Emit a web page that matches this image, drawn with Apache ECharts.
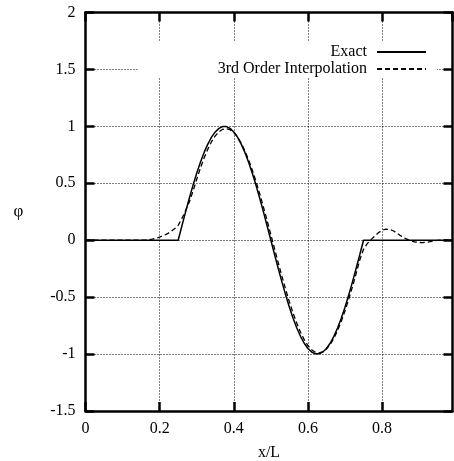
<!DOCTYPE html>
<html>
<head>
<meta charset="utf-8">
<script src="https://cdn.jsdelivr.net/npm/echarts@6/dist/echarts.min.js"></script>
<style>
html, body { margin: 0; padding: 0; background: #fff; }
#chart { width: 454px; height: 461px; }
</style>
</head>
<body>
<div id="chart"></div>
<script>
// x/L sample positions
var xValues = [
  0.00, 0.01, 0.02, 0.03, 0.04, 0.05, 0.06, 0.07, 0.08, 0.09,
  0.10, 0.11, 0.12, 0.13, 0.14, 0.15, 0.16, 0.17, 0.18, 0.19,
  0.20, 0.21, 0.22, 0.23, 0.24, 0.25, 0.26, 0.27, 0.28, 0.29,
  0.30, 0.31, 0.32, 0.33, 0.34, 0.35, 0.36, 0.37, 0.38, 0.39,
  0.40, 0.41, 0.42, 0.43, 0.44, 0.45, 0.46, 0.47, 0.48, 0.49,
  0.50, 0.51, 0.52, 0.53, 0.54, 0.55, 0.56, 0.57, 0.58, 0.59,
  0.60, 0.61, 0.62, 0.63, 0.64, 0.65, 0.66, 0.67, 0.68, 0.69,
  0.70, 0.71, 0.72, 0.73, 0.74, 0.75, 0.76, 0.77, 0.78, 0.79,
  0.80, 0.81, 0.82, 0.83, 0.84, 0.85, 0.86, 0.87, 0.88, 0.89,
  0.90, 0.91, 0.92, 0.93, 0.94, 0.95, 0.96, 0.97, 0.98, 0.99
];
// Exact solution
var exactValues = [
  0, 0, 0, 0, 0, 0, 0, 0, 0, 0,
  0, 0, 0, 0, 0, 0, 0, 0, 0, 0,
  0, 0, 0, 0, 0, 0, 0.125, 0.249, 0.368, 0.482,
  0.588, 0.685, 0.771, 0.844, 0.905, 0.951, 0.982, 0.998, 0.998, 0.982,
  0.951, 0.905, 0.844, 0.771, 0.685, 0.588, 0.482, 0.368, 0.249, 0.125,
  0, -0.125, -0.249, -0.368, -0.482, -0.588, -0.685, -0.771, -0.844, -0.905,
  -0.951, -0.982, -0.998, -0.998, -0.982, -0.951, -0.905, -0.844, -0.771, -0.685,
  -0.588, -0.482, -0.368, -0.249, -0.125, 0, 0, 0, 0, 0,
  0, 0, 0, 0, 0, 0, 0, 0, 0, 0,
  0, 0, 0, 0, 0, 0, 0, 0, 0, 0
];
// 3rd order interpolation
var interpValues = [
  0, 0, 0, 0, 0, 0, 0, 0, 0, 0,
  0, 0, 0, 0, 0, 0, 0.001, 0.004, 0.009, 0.017,
  0.027, 0.04, 0.055, 0.075, 0.10, 0.13, 0.19, 0.26, 0.335, 0.43,
  0.536, 0.634, 0.723, 0.800, 0.865, 0.916, 0.952, 0.974, 0.980, 0.971,
  0.946, 0.907, 0.853, 0.785, 0.706, 0.615, 0.515, 0.406, 0.291, 0.172,
  0.049, -0.075, -0.198, -0.318, -0.433, -0.541, -0.641, -0.730, -0.808, -0.873,
  -0.925, -0.962, -0.984, -0.990, -0.981, -0.955, -0.916, -0.861, -0.793, -0.713,
  -0.621, -0.520, -0.410, -0.292, -0.172, -0.08, -0.03, 0.005, 0.035, 0.065,
  0.087, 0.097, 0.095, 0.083, 0.063, 0.04, 0.02, 0.005, -0.008, -0.016,
  -0.02, -0.021, -0.018, -0.012, -0.006, -0.002, 0, 0, 0, 0
];
var seriesNames = ['Exact', '3rd Order Interpolation'];
var xTitle = 'x/L';
var yTitle = 'φ';

function pairs(xs, ys) {
  var out = [];
  for (var i = 0; i < xs.length; i++) out.push([xs[i], ys[i]]);
  return out;
}

var FONT = 'Liberation Serif';
var chart = echarts.init(document.getElementById('chart'), null, { renderer: 'canvas' });

var tickStyle = { show: true, inside: true, length: 9, lineStyle: { color: '#000', width: 2.5 } };
var gridLine = { show: true, lineStyle: { color: '#000', width: 1, type: [1, 2] } };
var frameLine = { show: true, onZero: false, lineStyle: { color: '#000', width: 2.5 } };

chart.setOption({
  animation: false,
  backgroundColor: '#fff',
  textStyle: { fontFamily: FONT },
  grid: {
    left: 85.5, top: 12.5, width: 367, height: 398.5,
    show: false,
    containLabel: false,
    outerBoundsMode: 'none'
  },
  legend: {
    orient: 'vertical',
    align: 'right',
    right: 17,
    top: 42,
    padding: [2, 10, 1, 80],
    backgroundColor: '#fff',
    itemWidth: 49,
    itemHeight: 14,
    itemGap: 1,
    selectedMode: false,
    itemStyle: { opacity: 0 },
    textStyle: { fontFamily: FONT, fontSize: 16, color: '#000', lineHeight: 14, padding: [0, 5, 0, 0] },
    data: seriesNames
  },
  xAxis: [{
    type: 'value', min: 0, max: 0.99, interval: 0.2, position: 'bottom',
    name: xTitle, nameLocation: 'middle', nameGap: 42,
    nameTextStyle: { fontFamily: FONT, fontSize: 16, color: '#000', verticalAlign: 'middle' },
    axisLine: frameLine,
    axisTick: tickStyle,
    axisLabel: { fontFamily: FONT, fontSize: 16, color: '#000', margin: 10, showMaxLabel: false },
    splitLine: gridLine
  }, {
    type: 'value', min: 0, max: 0.99, interval: 0.2, position: 'top',
    axisLine: frameLine, axisTick: tickStyle,
    axisLabel: { show: false }, splitLine: { show: false }
  }],
  yAxis: [{
    type: 'value', min: -1.5, max: 2, interval: 0.5, position: 'left',
    name: yTitle, nameLocation: 'middle', nameGap: 67, nameRotate: 0,
    nameTextStyle: { fontFamily: FONT, fontSize: 17, color: '#000', align: 'center', verticalAlign: 'middle' },
    axisLine: frameLine,
    axisTick: tickStyle,
    axisLabel: { fontFamily: FONT, fontSize: 16, color: '#000', margin: 10 },
    splitLine: gridLine
  }, {
    type: 'value', min: -1.5, max: 2, interval: 0.5, position: 'right',
    axisLine: frameLine, axisTick: tickStyle,
    axisLabel: { show: false }, splitLine: { show: false }
  }],
  series: [{
    name: seriesNames[0], type: 'line', xAxisIndex: 0, yAxisIndex: 0,
    data: pairs(xValues, exactValues),
    symbol: 'none', showSymbol: false,
    lineStyle: { color: '#000', width: 1.5, type: 'solid' },
    itemStyle: { color: '#000' },
    z: 3
  }, {
    name: seriesNames[1], type: 'line', xAxisIndex: 0, yAxisIndex: 0,
    data: pairs(xValues, interpValues),
    symbol: 'none', showSymbol: false,
    lineStyle: { color: '#000', width: 1.3, type: [5, 3] },
    itemStyle: { color: '#000' },
    z: 3
  }]
});
</script>
</body>
</html>
